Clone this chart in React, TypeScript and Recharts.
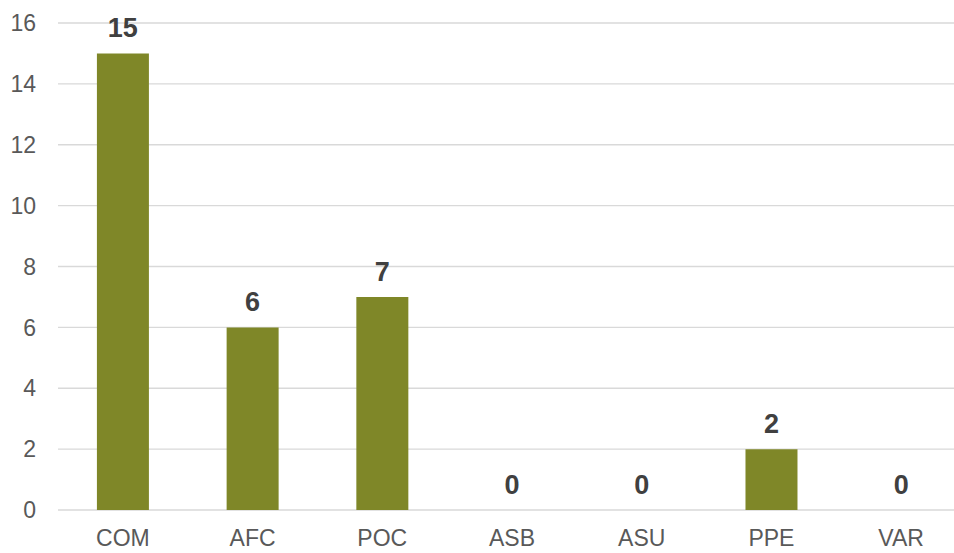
import { ComposedChart, Bar, Line, XAxis, YAxis, CartesianGrid, LabelList } from "recharts";

const categories = ["COM", "AFC", "POC", "ASB", "ASU", "PPE", "VAR"];
const counts = [15, 6, 7, 0, 0, 2, 0];
const yTicks = [0, 2, 4, 6, 8, 10, 12, 14, 16];

const chartData = categories.map((name, i) => ({ name, value: counts[i] }));

const FONT = "'Liberation Sans', Arial, sans-serif";

// zero-height bars are not drawn, so values are written from an invisible line's points
const renderValue = (props: any) => {
  const { x, y, width, value } = props;
  return (
    <text
      x={Number(x) + (Number(width) || 0) / 2}
      y={Number(y) - 16}
      textAnchor="middle"
      fill="#404040"
      fontSize={27}
      fontWeight="bold"
      fontFamily={FONT}
    >
      {String(value)}
    </text>
  );
};

const App = () => {
  return (
    <div
      style={{
        position: "fixed",
        left: 0,
        top: 0,
        width: 954,
        height: 553,
        overflow: "hidden",
        background: "#fff",
        fontFamily: FONT,
      }}
    >
      <ComposedChart
        width={966}
        height={553}
        data={chartData}
        margin={{ top: 23, right: 0, left: 0, bottom: 0 }}
        barCategoryGap="30%"
      >
        <CartesianGrid vertical={false} stroke="#d9d9d9" strokeWidth={1.3} />
        <XAxis
          dataKey="name"
          axisLine={false}
          tickLine={false}
          tickSize={0}
          tickMargin={20}
          height={43}
          tick={{ fill: "#595959", fontSize: 23, fontFamily: FONT }}
        />
        <YAxis
          domain={[0, 16]}
          ticks={yTicks}
          axisLine={false}
          tickLine={false}
          tickSize={0}
          tickMargin={22}
          width={58}
          tick={{ fill: "#595959", fontSize: 23, fontFamily: FONT }}
        />
        <Bar dataKey="value" fill="#7f8728" isAnimationActive={false} />
        <Line
          dataKey="value"
          stroke="none"
          dot={false}
          activeDot={false}
          legendType="none"
          isAnimationActive={false}
        >
          <LabelList dataKey="value" content={renderValue} />
        </Line>
      </ComposedChart>
    </div>
  );
};

export default App;
